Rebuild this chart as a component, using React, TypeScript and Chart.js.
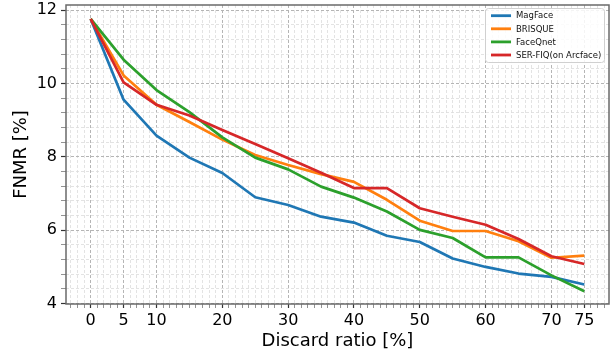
import React, { useEffect, useRef } from "react";
import { Chart, registerables } from "chart.js";

Chart.register(...registerables);

// ---- data ----
const discardRatio = [0, 5, 10, 15, 20, 25, 30, 35, 40, 45, 50, 55, 60, 65, 70, 75];
const magFace = [11.76, 9.56, 8.58, 7.98, 7.56, 6.90, 6.69, 6.37, 6.21, 5.85, 5.68, 5.23, 5.00, 4.82, 4.73, 4.52];
const brisque = [11.76, 10.22, 9.42, 8.95, 8.47, 8.05, 7.78, 7.53, 7.32, 6.83, 6.26, 5.98, 5.98, 5.70, 5.25, 5.31];
const faceQnet = [11.76, 10.65, 9.82, 9.22, 8.53, 7.98, 7.66, 7.19, 6.89, 6.51, 6.01, 5.79, 5.26, 5.26, 4.77, 4.34];
const serFiq = [11.76, 10.03, 9.42, 9.13, 8.73, 8.35, 7.96, 7.57, 7.15, 7.15, 6.60, 6.37, 6.15, 5.76, 5.29, 5.08];

const seriesNames = ["MagFace", "BRISQUE", "FaceQnet", "SER-FIQ(on Arcface)"];
const seriesColors = ["#1f77b4", "#ff7f0e", "#2ca02c", "#d62728"];

const xTickLabels = [0, 5, 10, 20, 30, 40, 50, 60, 70, 75];
const yTickLabels = [4, 6, 8, 10, 12];

const FONT = "'DejaVu Sans', sans-serif";

// minor grid positions (every 1 on x, every 0.4 on y)
const xGridValues: number[] = [];
for (let v = -3; v <= 78; v++) xGridValues.push(v);
const yGridValues: number[] = [];
for (let k = 0; k <= 20; k++) yGridValues.push(Math.round((4 + 0.4 * k) * 10) / 10);

const isXMajor = (v: number) => xTickLabels.includes(v);
const isYMajor = (v: number) => yTickLabels.some((t) => Math.abs(t - v) < 1e-6);

const framePlugin = {
  id: "frame",
  afterDraw(chart: any) {
    const { ctx, chartArea } = chart;
    ctx.save();
    ctx.strokeStyle = "#6a6a6a";
    ctx.lineWidth = 1.5;
    ctx.strokeRect(chartArea.left, chartArea.top, chartArea.right - chartArea.left, chartArea.bottom - chartArea.top);
    ctx.restore();
  },
};

const legendPlugin = {
  id: "innerLegend",
  afterDraw(chart: any) {
    const { ctx } = chart;
    const x = 485.5, y = 8.5, w = 119, h = 54, r = 3;
    ctx.save();
    ctx.beginPath();
    ctx.moveTo(x + r, y);
    ctx.lineTo(x + w - r, y);
    ctx.arcTo(x + w, y, x + w, y + r, r);
    ctx.lineTo(x + w, y + h - r);
    ctx.arcTo(x + w, y + h, x + w - r, y + h, r);
    ctx.lineTo(x + r, y + h);
    ctx.arcTo(x, y + h, x, y + h - r, r);
    ctx.lineTo(x, y + r);
    ctx.arcTo(x, y, x + r, y, r);
    ctx.closePath();
    ctx.fillStyle = "rgba(255,255,255,0.85)";
    ctx.fill();
    ctx.strokeStyle = "#d0d0d0";
    ctx.lineWidth = 1;
    ctx.stroke();
    ctx.font = `8.5px ${FONT}`;
    ctx.textBaseline = "middle";
    ctx.textAlign = "left";
    chart.data.datasets.forEach((ds: any, i: number) => {
      const cy = 15.7 + i * 13.1;
      ctx.strokeStyle = ds.borderColor;
      ctx.lineWidth = 2.8;
      ctx.beginPath();
      ctx.moveTo(491, cy);
      ctx.lineTo(511, cy);
      ctx.stroke();
      ctx.fillStyle = "#111";
      ctx.fillText(ds.label, 516, cy + 0.5);
    });
    ctx.restore();
  },
};

export default function App() {
  const ref = useRef<HTMLCanvasElement>(null);
  useEffect(() => {
    const series = [magFace, brisque, faceQnet, serFiq];
    const chart = new Chart(ref.current!, {
      type: "line",
      data: {
        datasets: series.map((s, i) => ({
          label: seriesNames[i],
          data: discardRatio.map((x, j) => ({ x, y: s[j] })),
          borderColor: seriesColors[i],
          backgroundColor: seriesColors[i],
          borderWidth: 2.7,
          pointRadius: 0,
          tension: 0,
          fill: false,
          borderJoinStyle: "round",
          borderCapStyle: "butt",
          order: series.length - i,
        })),
      },
      options: {
        responsive: false,
        animation: false,
        layout: { padding: { top: 5, right: 1, left: 0, bottom: 0 } },
        plugins: { legend: { display: false }, tooltip: { enabled: false } },
        scales: {
          x: {
            type: "linear",
            min: -3.75,
            max: 78.75,
            afterBuildTicks: (s: any) => {
              s.ticks = xGridValues.map((v) => ({ value: v }));
            },
            afterFit: (s: any) => {
              s.height = 51;
              s.paddingLeft = 0;
              s.paddingRight = 0;
            },
            ticks: {
              autoSkip: false,
              maxRotation: 0,
              padding: 3,
              color: "#000",
              font: { family: FONT, size: 16 },
              callback: (v: any) => (isXMajor(Number(v)) ? String(v) : ""),
            },
            grid: {
              color: (c: any) => (isXMajor(c.tick.value) ? "#b5b5b5" : "#dcdcdc"),
              lineWidth: (c: any) => (isXMajor(c.tick.value) ? 1 : 0.8),
              tickLength: 4,
              tickColor: (c: any) => (isXMajor(c.tick.value) ? "#333" : "#777"),
              tickWidth: (c: any) => (isXMajor(c.tick.value) ? 1.2 : 0.8),
            },
            border: { display: false, dash: [3, 2] },
            title: {
              display: true,
              text: "Discard ratio [%]",
              color: "#000",
              font: { family: FONT, size: 18 },
              padding: { top: 0, bottom: 3 },
            },
          },
          y: {
            type: "linear",
            min: 3.99,
            max: 12.14,
            afterBuildTicks: (s: any) => {
              s.ticks = yGridValues.map((v) => ({ value: v }));
            },
            afterFit: (s: any) => {
              s.width = 66;
              s.paddingTop = 0;
              s.paddingBottom = 0;
            },
            ticks: {
              autoSkip: false,
              padding: 4,
              color: "#000",
              font: { family: FONT, size: 16 },
              callback: (v: any) => (isYMajor(Number(v)) ? String(Math.round(Number(v))) : ""),
            },
            grid: {
              color: (c: any) => (isYMajor(c.tick.value) ? "#b5b5b5" : "#dcdcdc"),
              lineWidth: (c: any) => (isYMajor(c.tick.value) ? 1 : 0.8),
              tickLength: 5,
              tickColor: (c: any) => (isYMajor(c.tick.value) ? "#333" : "#777"),
              tickWidth: (c: any) => (isYMajor(c.tick.value) ? 1.2 : 0.8),
            },
            border: { display: false, dash: [3, 2] },
            title: {
              display: true,
              text: "FNMR [%]",
              color: "#000",
              font: { family: FONT, size: 18 },
              padding: { top: 11, bottom: 0 },
            },
          },
        },
      },
      plugins: [framePlugin, legendPlugin],
    } as any);
    return () => chart.destroy();
  }, []);
  return (
    <canvas
      ref={ref}
      width={610}
      height={355}
      style={{ position: "absolute", left: 0, top: 0, width: 610, height: 355, display: "block" }}
    />
  );
}
